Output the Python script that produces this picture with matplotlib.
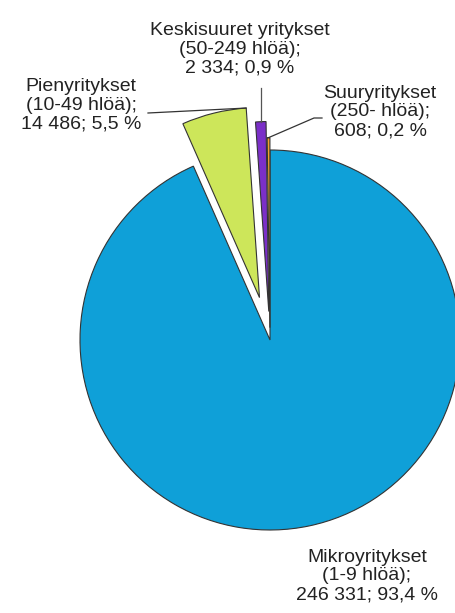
import numpy as np
import matplotlib.pyplot as plt

# data
names = ["Mikroyritykset", "Pienyritykset", "Keskisuuret yritykset", "Suuryritykset"]
sizes = ["(1-9 hlöä)", "(10-49 hlöä)", "(50-249 hlöä)", "(250- hlöä)"]
counts = [246331, 14486, 2334, 608]
colors = ["#0FA0D8", "#CDE65A", "#7B2FC8", "#F3A02A"]
explode = [0.0, 0.23, 0.15, 0.065]

total = sum(counts)
labels = []
for n, s, c in zip(names, sizes, counts):
    num = f"{c:,}".replace(",", " ")
    pct = f"{c / total * 100:.1f}".replace(".", ",")
    labels.append(f"{n}\n{s};\n{num}; {pct} %")

plt.rcParams["font.family"] = ["Liberation Sans", "DejaVu Sans"]

W, H = 455, 613
R = 190
fig = plt.figure(figsize=(W / 100, H / 100), dpi=100)
ax = fig.add_axes([0, 0, 1, 1])

# explode in matplotlib is absolute, so scale by radius
wedges, _ = ax.pie(counts, colors=colors, explode=[e * R for e in explode],
                   startangle=90, counterclock=False, radius=R,
                   center=(270, H - 340),
                   wedgeprops=dict(edgecolor="#333333", linewidth=0.8))

ax.set_xlim(0, W)
ax.set_ylim(0, H)
ax.set_aspect("equal")
ax.axis("off")


def edge_point(w, ang):
    cx, cy = w.center
    return cx + w.r * np.cos(np.radians(ang)), cy + w.r * np.sin(np.radians(ang))


txt = dict(fontsize=14, color="#222222", linespacing=1.13, ha="center")

# Mikro
ax.text(367, H - 576, labels[0], va="center", **txt)

# Pieni
ax.text(81, H - 105, labels[1], va="center", **txt)
gx, gy = edge_point(wedges[1], wedges[1].theta1)
ax.plot([148, gx], [H - 113, gy], color="#333333", lw=0.9)

# Keski
ax.text(240, H - 49, labels[2], va="center", **txt)
w = wedges[2]
px, py = edge_point(w, (w.theta1 + w.theta2) / 2)
ax.plot([px, px], [H - 88, py], color="#555555", lw=0.9)

# Suur
ax.text(380, H - 112, labels[3], va="center", **txt)
w = wedges[3]
ox, oy = edge_point(w, (w.theta1 + w.theta2) / 2)
ax.plot([322, 314, ox], [H - 118, H - 118, oy], color="#333333", lw=0.9)

fig.savefig("out.png", dpi=100)
